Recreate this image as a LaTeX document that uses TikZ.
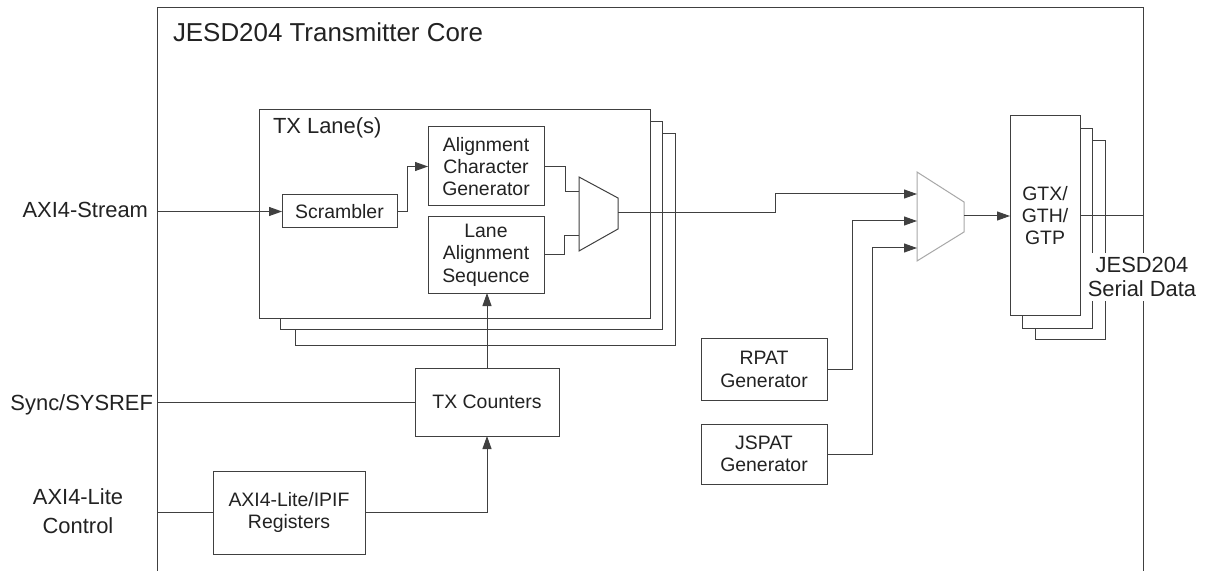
\documentclass[tikz,border=0pt]{standalone}
\usepackage{fontspec}
\setmainfont{Liberation Sans}
\usetikzlibrary{arrows.meta}
\definecolor{ln}{HTML}{404040}
\definecolor{tx}{HTML}{222222}
\definecolor{muxg}{HTML}{A8A8A8}
\begin{document}
\begin{tikzpicture}[x=1bp,y=-1bp,
  every node/.style={text=tx, inner sep=0pt, outer sep=0pt},
  blk/.style={draw=ln, line width=1bp, fill=white, align=center, font=\fontsize{19.5}{22.5}\selectfont},
  lbl/.style={align=center, font=\fontsize{22}{25}\selectfont},
  wire/.style={draw=ln, line width=1bp},
  arr/.style={wire, -{Triangle[length=13bp,width=9bp]}},
]
\useasboundingbox[fill=white] (0,0) rectangle (1207,571);

% core outline (open at bottom)
\draw[wire] (157,571) -- (157,8) -- (1143,8) -- (1143,571);
\node[font=\fontsize{26}{30}\selectfont, anchor=base west] (title) at (173,42) {JESD204 Transmitter Core};

% TX lane stack
\node[blk, minimum width=380bp, minimum height=211bp] (lane3) at (485,239.5) {};
\node[blk, minimum width=382bp, minimum height=207bp] (lane2) at (471,225.5) {};
\node[blk, minimum width=391bp, minimum height=208bp] (lane1) at (454.5,214) {};
\node[lbl, anchor=base west] (lanelbl) at (273,134) {TX Lane(s)};

\node[blk, minimum width=115bp, minimum height=33bp] (scr) at (339.5,211.5) {Scrambler};
\node[blk, minimum width=116bp, minimum height=79bp] (acg) at (486,166.5) {Alignment\\Character\\Generator};
\node[blk, minimum width=116bp, minimum height=76bp] (las) at (486,255) {Lane\\Alignment\\Sequence};

% lane mux
\draw[wire, fill=white] (579,177) -- (618,198) -- (618,229) -- (579,251) -- cycle;
\coordinate (m1a) at (579,192);
\coordinate (m1b) at (579,236);
\coordinate (m1o) at (618,213);

% lower blocks
\node[blk, minimum width=144bp, minimum height=68bp] (cnt) at (487,402) {TX Counters};
\node[blk, minimum width=152bp, minimum height=83bp] (regs) at (289,512.5) {AXI4-Lite/IPIF\\Registers};
\node[blk, minimum width=126bp, minimum height=61bp] (rpat) at (764,369.5) {RPAT\\Generator};
\node[blk, minimum width=126bp, minimum height=60bp] (jspat) at (764,454) {JSPAT\\Generator};

% outer mux
\draw[draw=muxg, line width=1bp, fill=white] (917,172) -- (964,202) -- (964,232) -- (917,261) -- cycle;
\coordinate (m2a) at (917,194);
\coordinate (m2b) at (917,221);
\coordinate (m2c) at (917,248);
\coordinate (m2o) at (964,216);

% GTX stack
\node[blk, minimum width=70bp, minimum height=198bp] (gtx3) at (1070,240) {};
\node[blk, minimum width=70bp, minimum height=199bp] (gtx2) at (1057,228.5) {};
\node[blk, minimum width=70bp, minimum height=199bp] (gtx1) at (1045,215.5) {GTX/\\GTH/\\GTP};

% external inputs
\coordinate (inS) at (157,211.5);
\coordinate (inY) at (157,402);
\coordinate (inL) at (157,512.5);
\coordinate (outR) at (1143,216);
\node[lbl, anchor=base east] (lstream) at (148,218) {AXI4-Stream};
\node[lbl, anchor=base east] (lsync) at (153,410) {Sync/SYSREF};
\node[lbl, font=\fontsize{22}{29}\selectfont] (llite) at (78,511) {AXI4-Lite\\Control};

% connectors
\draw[arr] (inS) -- (scr.west);
\draw[arr] (scr.east) -- ++(10,0) |- (acg.west);
\draw[wire] (acg.east) -- ++(21,0) |- (m1a);
\draw[wire] (las.east) -- ++(20,0) |- (m1b);
\draw[arr] (m1o) -- ++(157,0) |- (m2a);
\draw[arr] (rpat.east) -- ++(25,0) |- (m2b);
\draw[arr] (jspat.east) -- ++(45,0) |- (m2c);
\draw[arr] (m2o) -- (m2o -| gtx1.west);
\draw[wire] (gtx1.east |- outR) -- (outR);
\draw[wire] (inY) -- (cnt.west);
\draw[arr] (cnt.north) -- (las.south -| cnt.north);
\draw[wire] (inL) -- (regs.west);
\draw[arr] (regs.east) -| (cnt.south);

% output label
\node[lbl, fill=white, inner xsep=2bp, inner ysep=4bp] (ljesd) at (1142,277) {JESD204\\Serial Data};
\end{tikzpicture}
\end{document}
